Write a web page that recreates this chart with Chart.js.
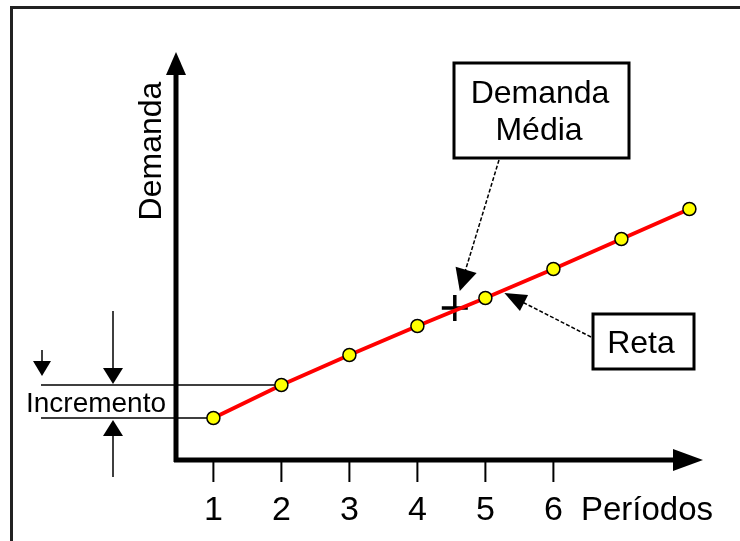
<!DOCTYPE html>
<html>
<head>
<meta charset="utf-8">
<script src="https://cdn.jsdelivr.net/npm/chart.js@4"></script>
<style>
html, body { margin: 0; padding: 0; background: #fff; }
#wrap { width: 740px; height: 541px; position: relative; }
</style>
</head>
<body>
<div id="wrap"><canvas id="myChart"></canvas></div>
<script>
// values
var periodos = [1, 2, 3, 4, 5, 6, 7, 8];
var demanda = [4.2, 7.5, 10.5, 13.4, 16.2, 19.1, 22.1, 25.1];
var mediaX = [4.55];
var mediaY = [15.2];
var tickValues = [1, 2, 3, 4, 5, 6];
var xTitle = 'Períodos';
var yTitle = 'Demanda';
var boxMedia = ['Demanda', 'Média'];
var boxReta = 'Reta';
var incLabel = 'Incremento';

var FONT = '"Liberation Sans", Arial, sans-serif';

function arrowHead(ctx, x1, y1, x2, y2, len, half) {
    var a = Math.atan2(y2 - y1, x2 - x1);
    ctx.beginPath();
    ctx.moveTo(x2, y2);
    ctx.lineTo(x2 - len * Math.cos(a) + half * Math.sin(a), y2 - len * Math.sin(a) - half * Math.cos(a));
    ctx.lineTo(x2 - len * Math.cos(a) - half * Math.sin(a), y2 - len * Math.sin(a) + half * Math.cos(a));
    ctx.closePath();
    ctx.fill();
}

var drawing = {
    id: 'drawing',
    beforeDatasetsDraw: function (chart) {
        var ctx = chart.ctx;
        var ca = chart.chartArea;
        var xs = chart.scales.x, ys = chart.scales.y;
        ctx.save();
        ctx.fillStyle = '#000';
        ctx.strokeStyle = '#000';

        // frame
        ctx.lineWidth = 3;
        ctx.strokeStyle = '#222';
        ctx.beginPath();
        ctx.moveTo(11.5, 545);
        ctx.lineTo(11.5, 7.5);
        ctx.lineTo(745, 7.5);
        ctx.stroke();
        ctx.strokeStyle = '#000';

        // increment lines
        var yA = ys.getPixelForValue(demanda[0]);
        var yB = ys.getPixelForValue(demanda[1]);
        ctx.lineWidth = 1.5;
        ctx.beginPath();
        ctx.moveTo(41, yB); ctx.lineTo(xs.getPixelForValue(periodos[1]), yB);
        ctx.moveTo(41, yA); ctx.lineTo(xs.getPixelForValue(periodos[0]), yA);
        ctx.stroke();

        // axes
        ctx.lineWidth = 5;
        ctx.beginPath();
        ctx.moveTo(ca.left, ca.bottom + 2);
        ctx.lineTo(ca.left, ca.top + 15);
        ctx.moveTo(ca.left - 2, ca.bottom);
        ctx.lineTo(ca.right - 15, ca.bottom);
        ctx.stroke();
        arrowHead(ctx, ca.left, ca.top + 40, ca.left, ca.top, 23, 10);
        arrowHead(ctx, ca.right - 40, ca.bottom, ca.right, ca.bottom, 30, 11);

        // ticks and labels
        ctx.lineWidth = 2;
        ctx.font = '34px ' + FONT;
        ctx.textAlign = 'center';
        ctx.textBaseline = 'alphabetic';
        tickValues.forEach(function (v) {
            var px = xs.getPixelForValue(v);
            ctx.beginPath();
            ctx.moveTo(px, ca.bottom + 2);
            ctx.lineTo(px, ca.bottom + 22);
            ctx.stroke();
            ctx.fillText(String(v), px, 520);
        });
        ctx.textAlign = 'left';
        ctx.font = '33px ' + FONT;
        ctx.fillText(xTitle, 581, 520);

        // y title
        ctx.save();
        ctx.translate(161, 151);
        ctx.rotate(-Math.PI / 2);
        ctx.textAlign = 'center';
        ctx.font = '32px ' + FONT;
        ctx.fillText(yTitle, 0, 0);
        ctx.restore();

        // increment label and arrows
        ctx.font = '28px ' + FONT;
        ctx.textAlign = 'center';
        ctx.fillText(incLabel, 96, 412);
        ctx.lineWidth = 1.5;
        ctx.beginPath();
        ctx.moveTo(113, 311); ctx.lineTo(113, yB - 10);
        ctx.moveTo(113, yA + 10); ctx.lineTo(113, 477);
        ctx.moveTo(42, 350); ctx.lineTo(42, 365);
        ctx.stroke();
        arrowHead(ctx, 113, yB - 30, 113, yB - 1, 16, 10);
        arrowHead(ctx, 113, yA + 30, 113, yA + 2, 16, 10);
        arrowHead(ctx, 42, 350, 42, 376, 15, 9);

        ctx.restore();
    },
    afterDatasetsDraw: function (chart) {
        var ctx = chart.ctx;
        var xs = chart.scales.x, ys = chart.scales.y;
        ctx.save();
        ctx.fillStyle = '#000';
        ctx.strokeStyle = '#000';

        // Demanda Media box
        ctx.lineWidth = 3;
        ctx.fillStyle = '#fff';
        ctx.fillRect(454, 63, 175, 95);
        ctx.strokeRect(454, 63, 175, 95);
        ctx.fillStyle = '#000';
        ctx.font = '32px ' + FONT;
        ctx.textAlign = 'center';
        ctx.fillText(boxMedia[0], 540, 103);
        ctx.fillText(boxMedia[1], 539, 140);

        // Reta box
        ctx.fillStyle = '#fff';
        ctx.fillRect(593, 314, 101, 55);
        ctx.strokeRect(593, 314, 101, 55);
        ctx.fillStyle = '#000';
        ctx.fillText(boxReta, 641, 353);

        // callout arrows
        var mx = xs.getPixelForValue(mediaX[0]);
        var my = ys.getPixelForValue(mediaY[0]);
        var t1x = mx + 5, t1y = my - 17;
        ctx.lineWidth = 1.5;
        ctx.setLineDash([4, 2]);
        ctx.beginPath();
        ctx.moveTo(499, 160);
        ctx.lineTo(t1x + 3, t1y - 12);
        var rx = xs.getPixelForValue(periodos[4]) + 19;
        var ry = ys.getPixelForValue(demanda[4]) - 5;
        ctx.moveTo(591, 337);
        ctx.lineTo(rx + 12, ry + 6);
        ctx.stroke();
        ctx.setLineDash([]);
        arrowHead(ctx, 499, 160, t1x, t1y, 22, 11);
        arrowHead(ctx, 591, 337, rx, ry, 22, 9);

        ctx.restore();
    }
};

var ctx = document.getElementById('myChart').getContext('2d');
var chart = new Chart(ctx, {
    type: 'scatter',
    data: {
        datasets: [
            {
                label: 'Demanda',
                data: periodos.map(function (p, i) { return { x: p, y: demanda[i] }; }),
                showLine: true,
                borderColor: '#ff0000',
                borderWidth: 4,
                pointRadius: 6.5,
                pointHoverRadius: 6.5,
                pointBackgroundColor: '#ffff00',
                pointBorderColor: '#000',
                pointBorderWidth: 1.5,
                clip: false
            },
            {
                label: 'Demanda Média',
                data: mediaX.map(function (p, i) { return { x: p, y: mediaY[i] }; }),
                pointStyle: 'cross',
                pointRadius: 13,
                pointHoverRadius: 13,
                borderColor: '#000',
                borderWidth: 3.5,
                pointBorderWidth: 3.5,
                clip: false
            }
        ]
    },
    options: {
        responsive: true,
        maintainAspectRatio: false,
        animation: false,
        events: [],
        layout: { padding: { left: 176, right: 37, top: 52, bottom: 81 } },
        scales: {
            x: { type: 'linear', min: 0.45, max: 8.2, display: false },
            y: { type: 'linear', min: 0, max: 40.8, display: false }
        },
        plugins: {
            legend: { display: false },
            tooltip: { enabled: false }
        }
    },
    plugins: [drawing]
});
</script>
</body>
</html>
